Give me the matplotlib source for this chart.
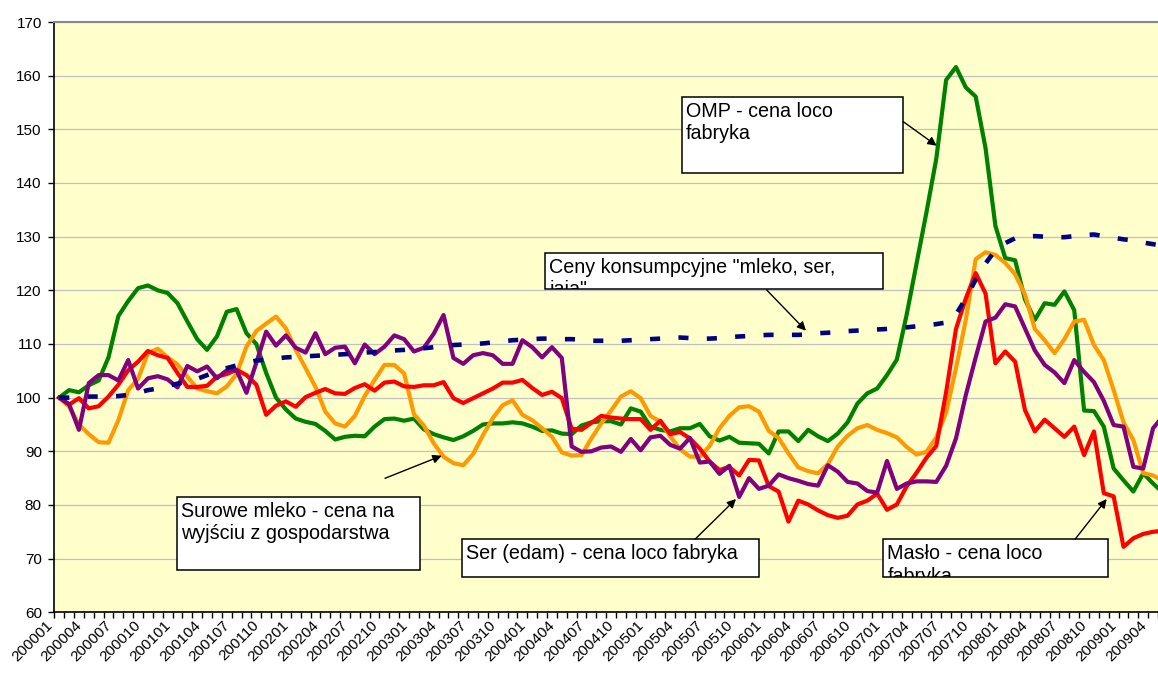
import numpy as np
import matplotlib
matplotlib.use('Agg')
import matplotlib.pyplot as plt
import matplotlib.patches as mpatches
from matplotlib.transforms import ScaledTranslation

plt.rcParams['font.family'] = ['Liberation Sans', 'DejaVu Sans']

# miesiace co 3 (etykiety osi X)
tick_labels = ['200001', '200004', '200007', '200010', '200101', '200104', '200107', '200110',
               '200201', '200204', '200207', '200210', '200301', '200304', '200307', '200310',
               '200401', '200404', '200407', '200410', '200501', '200504', '200507', '200510',
               '200601', '200604', '200607', '200610', '200701', '200704', '200707', '200710',
               '200801', '200804', '200807', '200810', '200901', '200904']

# OMP - cena loco fabryka (200001 = 100)
omp = [100.0, 101.4, 101.0, 102.3, 103.2, 107.5, 115.2, 118.0, 120.4, 120.9,
       120.0, 119.5, 117.6, 114.2, 110.9, 108.9, 111.4, 116.0, 116.5, 112.0,
       110.0, 104.6, 100.0, 97.8, 96.1, 95.5, 95.1, 93.8, 92.2, 92.7,
       92.9, 92.8, 94.6, 96.0, 96.1, 95.7, 96.1, 94.1, 93.2, 92.6,
       92.1, 92.8, 93.8, 95.0, 95.2, 95.2, 95.4, 95.2, 94.6, 93.8,
       93.9, 93.3, 93.2, 94.8, 95.4, 95.6, 95.6, 95.0, 98.0, 97.4,
       94.6, 94.0, 93.7, 94.3, 94.3, 95.1, 92.8, 92.0, 92.7, 91.6,
       91.5, 91.4, 89.6, 93.7, 93.7, 91.9, 94.0, 92.8, 91.9, 93.3,
       95.4, 98.9, 100.8, 101.7, 104.2, 107.1, 115.5, 125.0, 134.5, 144.5,
       159.2, 161.6, 157.8, 156.1, 146.5, 132.0, 126.0, 125.6, 118.3, 114.5,
       117.6, 117.3, 119.8, 116.3, 97.6, 97.5, 94.6, 86.8, 84.6, 82.5,
       85.9, 84.0, 82.3]

# Surowe mleko - cena na wyjsciu z gospodarstwa
mleko = [100.0, 98.3, 95.0, 93.2, 91.7, 91.6, 95.8, 101.4, 103.5, 108.3,
         109.1, 107.5, 106.2, 103.9, 101.7, 101.2, 100.8, 102.1, 104.4, 109.5,
         112.4, 113.8, 115.1, 112.9, 108.9, 105.5, 102.0, 97.4, 95.2, 94.6,
         96.6, 100.3, 103.3, 106.1, 106.1, 104.5, 96.9, 94.8, 91.5, 89.0,
         87.8, 87.4, 89.5, 93.0, 96.2, 98.6, 99.5, 96.8, 95.8, 94.3,
         92.7, 89.8, 89.2, 89.3, 92.4, 95.2, 97.6, 100.2, 101.2, 99.9,
         96.6, 95.5, 92.8, 90.4, 89.0, 89.0, 91.0, 94.3, 96.6, 98.2,
         98.4, 97.4, 93.8, 92.5, 89.6, 87.0, 86.3, 85.9, 87.6, 90.9,
         92.9, 94.3, 94.9, 94.0, 93.4, 92.6, 90.8, 89.4, 89.9, 92.6,
         97.2, 105.5, 114.5, 125.8, 127.1, 126.6, 125.1, 123.0, 119.2, 112.8,
         110.7, 108.3, 110.9, 114.2, 114.5, 109.8, 107.0, 101.4, 95.4, 92.1,
         85.9, 85.5, 84.5]

# Maslo - cena loco fabryka
maslo = [100.0, 98.7, 99.9, 98.0, 98.4, 100.2, 102.4, 105.1, 106.7, 108.7,
         107.9, 107.4, 104.6, 102.0, 102.0, 102.2, 103.9, 104.4, 105.2, 104.2,
         102.4, 96.8, 98.5, 99.3, 98.3, 100.1, 100.9, 101.6, 100.8, 100.7,
         101.8, 102.5, 101.3, 102.8, 103.0, 102.1, 102.0, 102.3, 102.3, 102.9,
         99.9, 99.0, 99.9, 100.8, 101.7, 102.8, 102.8, 103.3, 101.8, 100.5,
         101.1, 99.9, 94.2, 94.0, 95.3, 96.6, 96.3, 96.1, 96.0, 96.0,
         94.0, 95.7, 93.2, 93.6, 92.4, 90.5, 88.1, 86.5, 87.1, 85.5,
         88.4, 88.3, 83.5, 82.5, 76.9, 80.8, 80.1, 79.0, 78.1, 77.6,
         78.0, 80.1, 80.8, 82.1, 79.1, 80.1, 83.5, 86.0, 88.8, 91.0,
         101.0, 112.8, 118.5, 123.2, 119.4, 106.4, 108.6, 106.7, 97.7, 93.7,
         95.9, 94.3, 92.7, 94.6, 89.3, 93.7, 82.2, 81.6, 72.2, 73.8,
         74.6, 75.0, 75.2]

# Ser (edam) - cena loco fabryka
ser = [100.0, 98.8, 94.0, 102.7, 104.2, 104.2, 103.2, 107.0, 101.7, 103.6,
       104.0, 103.4, 101.9, 105.9, 104.9, 105.8, 103.6, 105.1, 105.1, 100.9,
       106.5, 112.3, 109.7, 111.6, 109.3, 108.4, 112.0, 108.1, 109.3, 109.5,
       106.4, 109.9, 108.1, 109.5, 111.6, 110.9, 108.6, 109.3, 111.9, 115.4,
       107.4, 106.3, 107.9, 108.3, 107.9, 106.3, 106.3, 110.7, 109.4, 107.5,
       109.4, 107.4, 90.9, 89.9, 90.0, 90.7, 90.9, 89.9, 92.3, 90.2,
       92.6, 92.9, 91.2, 90.5, 92.5, 87.9, 88.1, 85.8, 87.3, 81.5,
       85.0, 83.0, 83.6, 85.7, 85.0, 84.5, 83.9, 83.6, 87.4, 86.2,
       84.3, 84.0, 82.6, 82.3, 88.2, 83.0, 84.0, 84.4, 84.4, 84.3,
       87.3, 92.4, 100.5, 107.5, 114.2, 114.9, 117.4, 117.0, 112.9, 108.8,
       106.1, 104.7, 102.7, 107.0, 104.8, 102.9, 99.4, 94.9, 94.6, 87.1,
       86.8, 94.3, 96.5]

# Ceny konsumpcyjne "mleko, ser, jaja"
konsumpcja = [100.0, 100.0, 100.1, 100.2, 100.2, 100.2, 100.3, 100.5, 100.9, 101.4,
              101.7, 102.2, 102.6, 103.0, 103.5, 104.2, 104.9, 105.5, 106.0, 106.5,
              106.9, 107.1, 107.3, 107.5, 107.6, 107.7, 107.8, 107.9, 108.0, 108.1,
              108.2, 108.4, 108.5, 108.6, 108.8, 108.9, 109.1, 109.2, 109.4, 109.6,
              109.8, 109.9, 110.0, 110.1, 110.3, 110.5, 110.7, 110.8, 110.9, 111.0,
              111.0, 110.9, 110.9, 110.8, 110.6, 110.6, 110.6, 110.6, 110.7, 110.8,
              110.9, 111.0, 111.1, 111.2, 111.1, 111.0, 111.0, 111.1, 111.3, 111.4,
              111.5, 111.6, 111.7, 111.7, 111.7, 111.7, 111.8, 112.0, 112.1, 112.2,
              112.4, 112.5, 112.6, 112.7, 112.8, 112.9, 113.1, 113.3, 113.5, 113.7,
              114.0, 115.5, 118.5, 122.0, 125.0, 127.5, 128.8, 129.7, 130.0, 130.1,
              130.0, 129.9, 129.9, 130.1, 130.3, 130.4, 130.1, 129.8, 129.5, 129.3,
              128.9, 128.6, 128.3]

W, H = 1158, 673
fig = plt.figure(figsize=(W / 100, H / 100), dpi=100)
ax = fig.add_axes([54.3 / W, 1 - 612.3 / H, 1 - 54.3 / W, (612.3 - 22) / H])
ax.set_facecolor('#FFFFCC')

x = np.arange(len(omp))
lw = 3.0
ax.plot(x, omp, color='#008000', lw=lw, solid_joinstyle='round')
ax.plot(x, mleko, color='#FF9900', lw=lw, solid_joinstyle='round')
ax.plot(x, maslo, color='#FF0000', lw=lw, solid_joinstyle='round')
ax.plot(x, ser, color='#800080', lw=lw, solid_joinstyle='round')
ax.plot(x, konsumpcja, color='#000080', lw=3.3, linestyle=(0, (2.2, 4.0)),
        dash_capstyle='butt')

ax.set_xlim(-0.5, 111.5)
ax.set_ylim(60, 170)
ax.set_yticks(range(60, 171, 10))
ax.yaxis.grid(True, color='#C0C0C0', lw=0.9)
ax.set_axisbelow(True)

# kreski na granicach kategorii, etykiety co 3 miesiace
ax.set_xticks(np.arange(-0.5, 112, 1))
ax.set_xticklabels([])
lab_tr = ax.get_xaxis_transform() + ScaledTranslation(-9 / 100, -11 / 100, fig.dpi_scale_trans)
for pos, lab in zip(range(0, 112, 3), tick_labels):
    ax.text(pos, 0, lab, transform=lab_tr, rotation=45, ha='right', va='center',
            rotation_mode='anchor', fontsize=11, clip_on=False)

ax.tick_params(axis='x', which='major', length=4, width=1, direction='out')
ax.tick_params(axis='y', length=4, width=1, labelsize=11, pad=5)
ax.spines['right'].set_visible(False)
ax.spines['top'].set_color('#888888')
ax.spines['top'].set_linewidth(1.5)
ax.spines['left'].set_linewidth(1.2)
ax.spines['bottom'].set_linewidth(1.2)


def fx(px):
    return px / W


def fy(py):
    return 1 - py / H


def box(x0, y0, x1, y1, text):
    rect = mpatches.Rectangle((fx(x0), fy(y1)), fx(x1) - fx(x0), fy(y0) - fy(y1),
                              transform=fig.transFigure, facecolor='white',
                              edgecolor='black', lw=1.1, zorder=5)
    fig.add_artist(rect)
    t = fig.text(fx(x0 + 4), fy(y0 + 5), text, fontsize=14.2, va='top', ha='left',
                 linespacing=1.25, zorder=6)
    t.set_clip_path(rect)


def arrow(xa, ya, xb, yb):
    fig.add_artist(mpatches.FancyArrowPatch((fx(xa), fy(ya)), (fx(xb), fy(yb)),
                                            transform=fig.transFigure, arrowstyle='-|>',
                                            mutation_scale=13, color='black', lw=1.0,
                                            shrinkA=0, shrinkB=0, zorder=7))


box(681.7, 96.7, 903.3, 173.3, 'OMP - cena loco\nfabryka')
box(545, 252.7, 883.3, 289.3, 'Ceny konsumpcyjne "mleko, ser,\njaja"')
box(176.7, 496.7, 420, 570, 'Surowe mleko - cena na\nwyjściu z gospodarstwa')
box(461.7, 539.3, 759.3, 577.3, 'Ser (edam) - cena loco fabryka')
box(883.3, 539.3, 1107.7, 577.3, 'Masło - cena loco\nfabryka')

arrow(903.3, 121.7, 936.7, 145.7)
arrow(766.7, 290, 806, 330.7)
arrow(385, 478.3, 441.7, 455.7)
arrow(695, 539.3, 736, 499)
arrow(1075, 539.3, 1106.7, 499)

fig.savefig('out.png', dpi=100, facecolor='white')
